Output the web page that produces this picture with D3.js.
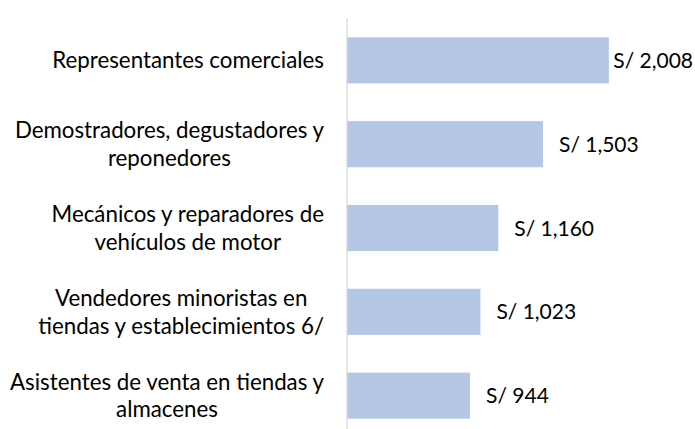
<!DOCTYPE html>
<html>
<head>
<meta charset="utf-8">
<script src="https://cdn.jsdelivr.net/npm/d3@7"></script>
<style>
  body { margin: 0; background: #fff; }
  svg text { font-family: Lato, "Noto Sans", sans-serif; fill: #000; }
</style>
</head>
<body>
<div id="barChart"></div>
<script>
// occupations (one entry per bar, lines as they wrap in the original)
var categories = [
  ["Representantes comerciales"],
  ["Demostradores, degustadores y", "reponedores"],
  ["Mecánicos y reparadores de", "vehículos de motor"],
  ["Vendedores minoristas en", "tiendas y establecimientos 6/"],
  ["Asistentes de venta en tiendas y", "almacenes"]
];
var ids = ["rep", "dem", "mec", "ven", "asi"];
var salaries = [2008, 1503, 1160, 1023, 944];

var svg = d3.select("#barChart").append("svg")
    .attr("width", 695).attr("height", 429),
  labelSize = 22.3,
  valueSize = 21,
  lineHeight = 27.5,
  labelRight = 324,
  rightEdge = 693;

var yScale = d3.scaleBand()
    .domain(ids)
    .range([18, 438])
    .paddingInner(0.45)
    .paddingOuter(0.23);

var xScale = d3.scaleLinear()
    .domain([0, 2500])
    .range([347, 673]);

var data = ids.map(function(id, i) {
  return {id: id, lines: categories[i], value: salaries[i]};
});

svg.selectAll(".bar")
  .data(data)
  .enter().append("rect")
    .attr("class", "bar")
    .attr("x", xScale(0))
    .attr("y", function(d) { return yScale(d.id); })
    .attr("width", function(d) { return xScale(d.value) - xScale(0); })
    .attr("height", yScale.bandwidth())
    .style("fill", "#b4c7e7");

// vertical axis line, no ticks
svg.append("line")
    .attr("x1", xScale(0)).attr("x2", xScale(0))
    .attr("y1", yScale.range()[0]).attr("y2", yScale.range()[1])
    .style("stroke", "#d9d9d9")
    .style("stroke-width", 1.3);

var fmt = d3.format(",");
svg.selectAll(".value")
  .data(data)
  .enter().append("text")
    .attr("class", "value")
    .attr("y", function(d) { return yScale(d.id) + yScale.bandwidth() / 2; })
    .attr("dy", "0.36em")
    .style("font-size", valueSize + "px")
    .text(function(d) { return "S/ " + fmt(d.value); })
    .attr("x", function(d) {
      // keep the label inside the chart when the bar is long
      var w = this.getComputedTextLength();
      return Math.min(xScale(d.value) + 16, rightEdge - w);
    });

// category labels: each line centred, the block right aligned
var label = svg.selectAll(".label")
  .data(data)
  .enter().append("text")
    .attr("class", "label")
    .attr("text-anchor", "middle")
    .style("font-size", labelSize + "px");

label.each(function(d) {
  var t = d3.select(this),
      cy = yScale(d.id) + yScale.bandwidth() / 2,
      n = d.lines.length;
  var spans = t.selectAll("tspan")
    .data(d.lines)
    .enter().append("tspan")
      .attr("y", function(l, i) { return cy + (i - (n - 1) / 2) * lineHeight; })
      .attr("dy", "0.36em")
      .text(function(l) { return l; });
  var w = d3.max(spans.nodes(), function(s) { return s.getComputedTextLength(); });
  spans.attr("x", labelRight - w / 2);
});
</script>
</body>
</html>
